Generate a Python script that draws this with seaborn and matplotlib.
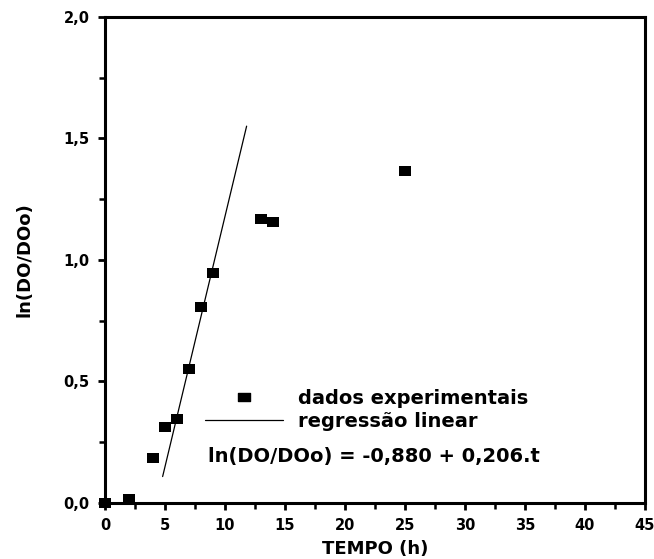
import numpy as np
import pandas as pd
import seaborn as sns
import matplotlib.pyplot as plt
from matplotlib.path import Path
from matplotlib.lines import Line2D

tempo = [0, 2, 4, 5, 6, 7, 8, 9, 13, 14, 25]
ln_do = [0.0, 0.015, 0.184, 0.314, 0.346, 0.55, 0.808, 0.948, 1.169, 1.156, 1.365]

# linear fit ln(DO/DOo) = a + b.t drawn over the exponential phase
coef_a = -0.880
coef_b = 0.206
reg_t = [4.8, 11.8]

x_ticks = [0, 5, 10, 15, 20, 25, 30, 35, 40, 45]
y_ticks = [0.0, 0.5, 1.0, 1.5, 2.0]
y_tick_labels = ['0,0', '0,5', '1,0', '1,5', '2,0']

df = pd.DataFrame({'t': tempo, 'y': ln_do})
reg = pd.DataFrame({'t': reg_t, 'y': [coef_a + coef_b * t for t in reg_t]})

sns.set_style('ticks')
plt.rcParams['font.family'] = ['DejaVu Sans']
plt.rcParams.update({'text.color': 'black', 'axes.labelcolor': 'black',
                     'xtick.color': 'black', 'ytick.color': 'black'})

fig = plt.figure(figsize=(6.54, 5.59), dpi=100)
ax = fig.add_axes([0.1606, 0.1002, 0.8256, 0.8694])

# wide rectangular marker, as in the original
rect = Path([(-1.4, -1), (1.4, -1), (1.4, 1), (-1.4, 1), (-1.4, -1)],
            [Path.MOVETO, Path.LINETO, Path.LINETO, Path.LINETO, Path.CLOSEPOLY])

sns.scatterplot(data=df, x='t', y='y', marker=rect, s=85, color='black',
                edgecolor='black', linewidth=0, ax=ax, zorder=3, clip_on=False)
sns.lineplot(data=reg, x='t', y='y', color='black', linewidth=0.9, ax=ax)

ax.set_xlim(0, 45)
ax.set_ylim(0, 2.0)
ax.set_xticks(x_ticks)
ax.set_xticklabels([str(v) for v in x_ticks])
ax.set_yticks(y_ticks)
ax.set_yticklabels(y_tick_labels)
ax.set_xticks(np.arange(2.5, 45, 5), minor=True)
ax.set_yticks(np.arange(0.25, 2.0, 0.5), minor=True)

for s in ax.spines.values():
    s.set_linewidth(2.2)
    s.set_color('black')
ax.tick_params(which='major', direction='out', length=5, width=2, labelsize=10.5, pad=6)
ax.tick_params(which='minor', direction='out', length=4, width=1.8)
for lab in ax.get_xticklabels() + ax.get_yticklabels():
    lab.set_fontweight('bold')

ax.set_xlabel('TEMPO (h)', fontsize=13, fontweight='bold', labelpad=5)
ax.set_ylabel('ln(DO/DOo)', fontsize=13, fontweight='bold', labelpad=22)

handles = [
    Line2D([], [], marker=rect, color='black', linestyle='none', markersize=9),
    Line2D([], [], color='black', linewidth=0.9),
]
ax.legend(handles, ['dados experimentais', 'regressão linear'],
          loc='upper left', bbox_to_anchor=(0.185, 0.235), frameon=False,
          prop={'size': 14, 'weight': 'bold'}, handlelength=4.0,
          handletextpad=0.8, labelspacing=0.2, borderpad=0, borderaxespad=0,
          labelcolor='black')
ax.text(0.191, 0.095, 'ln(DO/DOo) = -0,880 + 0,206.t', transform=ax.transAxes,
        fontsize=14, fontweight='bold', va='center', ha='left', color='black')

fig.savefig('out.png', dpi=100)
